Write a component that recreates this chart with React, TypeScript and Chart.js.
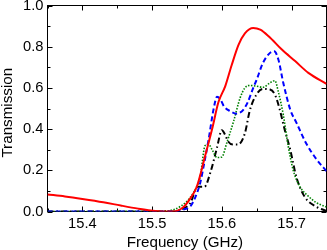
import React, { useEffect, useRef } from "react";
import { Chart, registerables } from "chart.js";

Chart.register(...registerables);

const redFreq = [15.35, 15.375, 15.4, 15.43, 15.455, 15.48, 15.498, 15.515, 15.53, 15.545, 15.555, 15.564, 15.576, 15.586, 15.595, 15.605, 15.614, 15.624, 15.633, 15.645, 15.655, 15.667, 15.686, 15.705, 15.724, 15.75];
const redT = [0.083, 0.073, 0.061, 0.045, 0.029, 0.014, 0.005, 0.0, 0.0, 0.022, 0.065, 0.12, 0.27, 0.4, 0.53, 0.61, 0.71, 0.81, 0.865, 0.891, 0.883, 0.851, 0.786, 0.73, 0.673, 0.62];

const blueFreq = [15.35, 15.53, 15.545, 15.555, 15.562, 15.569, 15.575, 15.581, 15.588, 15.593, 15.598, 15.603, 15.612, 15.621, 15.631, 15.637, 15.645, 15.65, 15.659, 15.669, 15.675, 15.681, 15.688, 15.698, 15.707, 15.721, 15.736, 15.75];
const blueT = [0, 0, 0.01, 0.026, 0.07, 0.14, 0.24, 0.35, 0.495, 0.557, 0.544, 0.51, 0.487, 0.475, 0.495, 0.53, 0.6, 0.641, 0.722, 0.77, 0.778, 0.738, 0.625, 0.495, 0.43, 0.33, 0.252, 0.196];

const greenFreq = [15.35, 15.52, 15.541, 15.559, 15.569, 15.576, 15.581, 15.586, 15.593, 15.6, 15.607, 15.617, 15.626, 15.633, 15.64, 15.65, 15.659, 15.669, 15.676, 15.681, 15.688, 15.695, 15.702, 15.712, 15.724, 15.736, 15.75];
const greenT = [0, 0.003, 0.026, 0.09, 0.171, 0.32, 0.325, 0.3, 0.262, 0.265, 0.333, 0.44, 0.55, 0.6, 0.612, 0.608, 0.603, 0.625, 0.635, 0.58, 0.47, 0.32, 0.204, 0.12, 0.074, 0.042, 0.022];

const blackFreq = [15.35, 15.53, 15.545, 15.555, 15.565, 15.575, 15.584, 15.593, 15.6, 15.605, 15.609, 15.616, 15.623, 15.633, 15.64, 15.65, 15.659, 15.669, 15.676, 15.683, 15.69, 15.698, 15.707, 15.719, 15.736, 15.75];
const blackT = [0, 0, 0.015, 0.042, 0.12, 0.12, 0.195, 0.31, 0.395, 0.37, 0.34, 0.325, 0.325, 0.38, 0.49, 0.57, 0.595, 0.592, 0.568, 0.495, 0.398, 0.3, 0.165, 0.07, 0.022, 0.003];

const xMajorTicks = [15.4, 15.5, 15.6, 15.7];
const xMinorTicks = [15.35, 15.45, 15.55, 15.65, 15.75];
const yMajorTicks = [0, 0.2, 0.4, 0.6, 0.8, 1.0];
const yMinorTicks = [0.1, 0.3, 0.5, 0.7, 0.9];

const FONT = "'Liberation Sans', Arial, sans-serif";

const toPoints = (xs: number[], ys: number[]) => xs.map((x, i) => ({ x, y: ys[i] }));

const framePlugin = {
  id: "frame",
  beforeDatasetsDraw(chart: any) {
    const { ctx, chartArea: a, scales } = chart;
    const x = scales.x;
    const y = scales.y;
    ctx.save();
    ctx.strokeStyle = "#000";
    ctx.lineWidth = 1;
    ctx.strokeRect(a.left, a.top, a.right - a.left, a.bottom - a.top);
    ctx.beginPath();
    const xt = (vals: number[], len: number) => {
      vals.forEach((v) => {
        const px = Math.round(x.getPixelForValue(v)) + 0.5;
        ctx.moveTo(px, a.bottom);
        ctx.lineTo(px, a.bottom - len);
        ctx.moveTo(px, a.top);
        ctx.lineTo(px, a.top + len);
      });
    };
    const yt = (vals: number[], len: number) => {
      vals.forEach((v) => {
        const py = Math.round(y.getPixelForValue(v)) + 0.5;
        ctx.moveTo(a.left, py);
        ctx.lineTo(a.left + len, py);
        ctx.moveTo(a.right, py);
        ctx.lineTo(a.right - len, py);
      });
    };
    xt(xMajorTicks, 5);
    xt(xMinorTicks, 3);
    yt(yMajorTicks, 5);
    yt(yMinorTicks, 3);
    ctx.stroke();
    ctx.restore();
  },
};

export default function App() {
  const ref = useRef<HTMLCanvasElement | null>(null);
  useEffect(() => {
    if (!ref.current) return;
    const chart = new Chart(ref.current, {
      type: "line",
      data: {
        datasets: [
          {
            data: toPoints(redFreq, redT),
            borderColor: "#ff0000",
            borderWidth: 2,
            pointRadius: 0,
            cubicInterpolationMode: "monotone",
          },
          {
            data: toPoints(blueFreq, blueT),
            borderColor: "#0000ff",
            borderWidth: 2,
            borderDash: [5, 3],
            pointRadius: 0,
            cubicInterpolationMode: "monotone",
          },
          {
            data: toPoints(greenFreq, greenT),
            borderColor: "#008000",
            borderWidth: 1.6,
            borderDash: [1.5, 1.5],
            pointRadius: 0,
            cubicInterpolationMode: "monotone",
          },
          {
            data: toPoints(blackFreq, blackT),
            borderColor: "#000000",
            borderWidth: 2,
            borderDash: [6, 3, 1.5, 3],
            pointRadius: 0,
            cubicInterpolationMode: "monotone",
          },
        ],
      },
      options: {
        animation: false,
        responsive: false,
        layout: { padding: { top: 5.5, right: 0.5, left: 0, bottom: 0 } },
        plugins: { legend: { display: false }, tooltip: { enabled: false } },
        scales: {
          x: {
            type: "linear",
            min: 15.35,
            max: 15.75,
            grid: { display: false, drawTicks: false },
            border: { display: false },
            afterBuildTicks: (s: any) => {
              s.ticks = xMajorTicks.map((v) => ({ value: v }));
            },
            afterFit: (s: any) => {
              s.height = 38.5;
              s.paddingLeft = 0;
              s.paddingRight = 0;
            },
            ticks: {
              color: "#000",
              padding: 3.5,
              autoSkip: false,
              maxRotation: 0,
              font: { family: FONT, size: 14.7 },
              callback: (v: any) => Number(v).toFixed(1),
            },
            title: {
              display: true,
              text: "Frequency (GHz) ",
              color: "#000",
              font: { family: FONT, size: 15.2, lineHeight: 1 },
              padding: { top: 0, bottom: 0 },
            },
          },
          y: {
            type: "linear",
            min: 0,
            max: 1,
            grid: { display: false, drawTicks: false },
            border: { display: false },
            afterBuildTicks: (s: any) => {
              s.ticks = yMajorTicks.map((v) => ({ value: v }));
            },
            afterFit: (s: any) => {
              s.width = 47.5;
              s.paddingTop = 0;
              s.paddingBottom = 0;
            },
            ticks: {
              color: "#000",
              padding: 4,
              font: { family: FONT, size: 14.7 },
              callback: (v: any) => Number(v).toFixed(1),
            },
            title: {
              display: true,
              text: "Transmission  ",
              color: "#000",
              font: { family: FONT, size: 15.2, lineHeight: 1 },
              padding: { top: 0, bottom: 0 },
            },
          },
        },
      },
      plugins: [framePlugin],
    } as any);
    return () => chart.destroy();
  }, []);
  return (
    <div style={{ position: "absolute", left: 0, top: 0, width: 327, height: 250 }}>
      <canvas ref={ref} width={327} height={250} style={{ width: 327, height: 250 }} />
    </div>
  );
}
